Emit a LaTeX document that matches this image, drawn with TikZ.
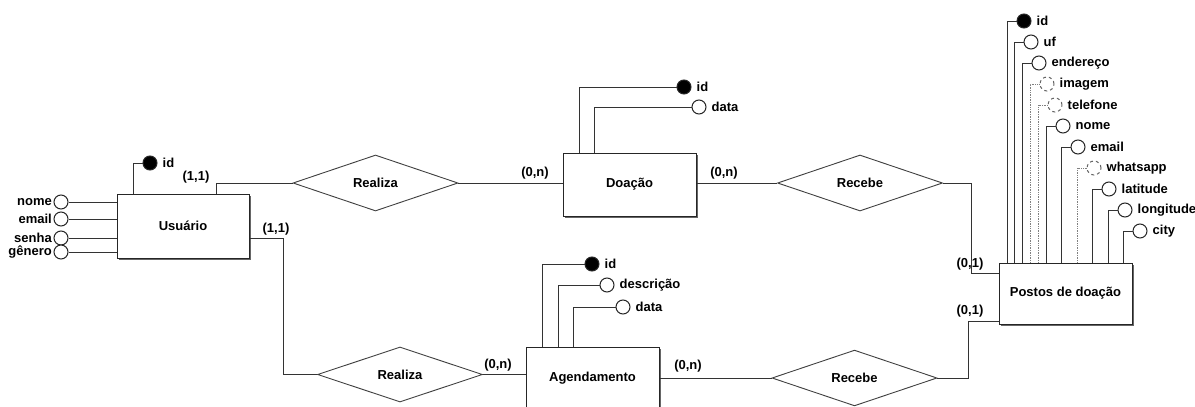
\documentclass[tikz,border=0pt]{standalone}
\usepackage{fontspec}
\setmainfont{Liberation Sans}
\usetikzlibrary{shapes.geometric,shadows}
\begin{document}
\begin{tikzpicture}[x=1pt,y=-1pt,
 every node/.style={font=\bfseries\fontsize{13}{15}\selectfont, inner sep=0pt},
 ent/.style={draw=black!85, fill=white, line width=1pt, minimum width=133pt, minimum height=63pt,
   drop shadow={shadow xshift=2pt,shadow yshift=-2pt,fill=black!60,opacity=1}},
 rel/.style={diamond, draw=black!75, fill=white, line width=0.9pt, minimum width=165pt, minimum height=56pt},
 conn/.style={draw=black!80, line width=1pt},
 optconn/.style={draw=black!50, line width=0.7pt, densely dotted},
 att/.style={circle, draw=black!85, fill=white, line width=1pt, minimum size=14pt},
 key/.style={att, fill=black},
 opt/.style={att, draw=black!60, dashed},
 lbl/.style={anchor=west}
]
\useasboundingbox (0,0) rectangle (1195,407);
\clip (0,0) rectangle (1195,407);

% entities
\node[ent, minimum width=132pt, minimum height=64pt] (U) at (183,226) {Usuário};
\node[ent] (D) at (629.5,184.5) {Doação};
\node[ent] (A) at (592.5,378.5) {Agendamento};
\node[ent, minimum height=61pt] (P) at (1065.5,293.5) {Postos de doação};

% relationships
\node[rel] (R1) at (375.5,183) {Realiza};
\node[rel] (R3) at (860,183) {Recebe};
\node[rel, minimum height=55pt] (R2) at (400,374.5) {Realiza};
\node[rel, minimum height=55pt] (R4) at (854.5,378) {Recebe};

% connectors
\coordinate (u1) at (216,0);
\draw[conn] (U.north -| u1) |- (R1.west);
\draw[conn] (R1.east) -- (R1.east -| D.west);
\draw[conn] (D.east |- R3.west) -- (R3.west);
\coordinate (b1) at (971,0);
\draw[conn] (R3.east) -| ([shift={(0,-20.5)}]P.west -| b1) -- ([shift={(0,-20.5)}]P.west);
\coordinate (c1) at (283,0);
\draw[conn] ([shift={(0,12)}]U.east) -| (R2.west -| c1) -- (R2.west);
\draw[conn] (R2.east) -- (R2.east -| A.west);
\draw[conn] (A.east |- R4.west) -- (R4.west);
\coordinate (b2) at (968,0);
\draw[conn] (R4.east) -| ([shift={(0,27.5)}]P.west -| b2) -- ([shift={(0,27.5)}]P.west);

% cardinalities
\node (k1) at (196,177) {(1,1)};
\node (k2) at (276,229) {(1,1)};
\node (k3) at (535,173) {(0,n)};
\node (k4) at (724,173) {(0,n)};
\node (k5) at (970,264) {(0,1)};
\node (k6) at (970,311) {(0,1)};
\node (k7) at (498,365) {(0,n)};
\node (k8) at (688,366) {(0,n)};

% Usuario attributes
\node[key] (uid) at (150,163) {};
\node[lbl] (uidt) at ([xshift=5pt]uid.east) {id};
\coordinate (uv) at (133,0);
\draw[conn] (U.north -| uv) |- (uid.west);
\foreach \n/\t/\yy in {unome/nome/202, uemail/email/219, usenha/senha/238, ugen/gênero/252}{
  \node[att] (\n) at (61,\yy) {};
  \node[anchor=east] (\n t) at ([xshift=-1.5pt]\n.west) {\t};
  \draw[conn] (\n.east) -- (\n.east -| U.west);
}

% Doacao attributes
\node[key] (did) at (684,87) {};
\node[lbl] (didt) at ([xshift=5pt]did.east) {id};
\coordinate (dv1) at (579,0);
\draw[conn] (D.north -| dv1) |- (did.west);
\node[att] (ddata) at (699,107) {};
\node[lbl] (ddatat) at ([xshift=5pt]ddata.east) {data};
\coordinate (dv2) at (594,0);
\draw[conn] (D.north -| dv2) |- (ddata.west);

% Agendamento attributes
\foreach \n/\t/\lx/\cx/\yy/\s in {aid/id/542/592/264/key, adesc/descrição/558/607/285/att, adata/data/573/623/307/att}{
  \node[\s] (\n) at (\cx,\yy) {};
  \node[lbl] (\n t) at ([xshift=5pt]\n.east) {\t};
  \coordinate (\n v) at (\lx,0);
  \draw[conn] (A.north -| \n v) |- (\n.west);
}

% Postos attributes
\foreach \n/\t/\lx/\yy/\s/\c in {
  pid/id/1007/21/key/conn,
  puf/uf/1014/42/att/conn,
  pend/endereço/1022/63/att/conn,
  pimg/imagem/1030/84/opt/optconn,
  ptel/telefone/1038/105/opt/optconn,
  pnome/nome/1046/126/att/conn,
  pemail/email/1061/147/att/conn,
  pwhats/whatsapp/1077/168/opt/optconn,
  plat/latitude/1092/189/att/conn,
  plon/longitude/1108/210/att/conn,
  pcity/city/1123/231/att/conn}{
  \node[\s] (\n) at (\lx+17,\yy) {};
  \node[lbl] (\n t) at ([xshift=5pt]\n.east) {\t};
  \coordinate (\n v) at (\lx,0);
  \draw[\c] (P.north -| \n v) |- (\n.west);
}
\end{tikzpicture}
\end{document}
